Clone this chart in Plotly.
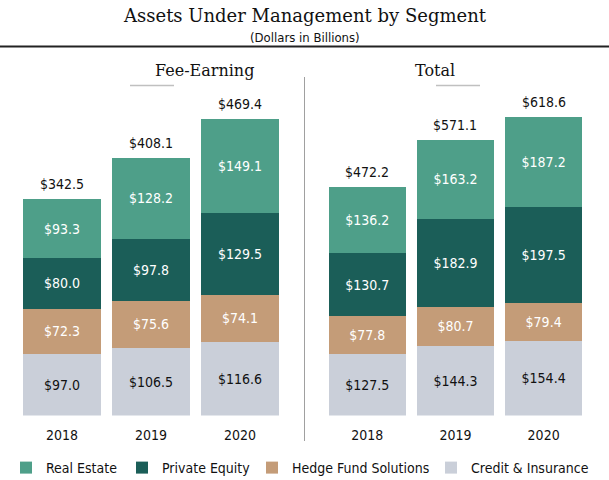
import plotly.graph_objects as go

W, H = 609, 480

years = ["2018", "2019", "2020"]
series_names = ["Real Estate", "Private Equity", "Hedge Fund Solutions", "Credit & Insurance"]
fee_real_estate = [93.3, 128.2, 149.1]
fee_private_equity = [80.0, 97.8, 129.5]
fee_hedge_fund = [72.3, 75.6, 74.1]
fee_credit = [97.0, 106.5, 116.6]
fee_totals = [342.5, 408.1, 469.4]

tot_real_estate = [136.2, 163.2, 187.2]
tot_private_equity = [130.7, 182.9, 197.5]
tot_hedge_fund = [77.8, 80.7, 79.4]
tot_credit = [127.5, 144.3, 154.4]
tot_totals = [472.2, 571.1, 618.6]

colors = {
    "Real Estate": "#4e9f89",
    "Private Equity": "#1b5e58",
    "Hedge Fund Solutions": "#c49c78",
    "Credit & Insurance": "#cacfd9",
}
text_colors = {
    "Real Estate": "white",
    "Private Equity": "white",
    "Hedge Fund Solutions": "white",
    "Credit & Insurance": "#111111",
}
legend_ids = {
    "Real Estate": "legend",
    "Private Equity": "legend2",
    "Hedge Fund Solutions": "legend3",
    "Credit & Insurance": "legend4",
}

SANS = "DejaVu Sans Condensed, DejaVu Sans, sans-serif"
SERIF = "DejaVu Serif, serif"

panels = [
    ("x", "y", {"Credit & Insurance": fee_credit, "Hedge Fund Solutions": fee_hedge_fund,
                "Private Equity": fee_private_equity, "Real Estate": fee_real_estate}, fee_totals, True),
    ("x2", "y2", {"Credit & Insurance": tot_credit, "Hedge Fund Solutions": tot_hedge_fund,
                  "Private Equity": tot_private_equity, "Real Estate": tot_real_estate}, tot_totals, False),
]

fig = go.Figure()
stack_order = ["Credit & Insurance", "Hedge Fund Solutions", "Private Equity", "Real Estate"]
for xa, ya, data, totals, show in panels:
    for name in stack_order:
        vals = data[name]
        fig.add_trace(go.Bar(
            x=list(years), y=list(vals), name=name, xaxis=xa, yaxis=ya,
            marker=dict(color=colors[name], line=dict(width=0)),
            text=["$" + f"{v:.1f}" for v in vals], textposition="inside",
            insidetextanchor="middle", textangle=0,
            textfont=dict(family=SANS, size=14, color=text_colors[name]),
            legendgroup=name, showlegend=show, legend=legend_ids[name],
        ))

annotations = []
for xa, ya, data, totals, show in panels:
    for i, t in enumerate(totals):
        annotations.append(dict(
            x=i, y=t, xref=xa, yref=ya, text="$" + f"{t:.1f}", showarrow=False,
            yanchor="bottom", yshift=5, font=dict(family=SANS, size=14, color="#111111"),
        ))

def px_x(p):
    return p / W

def px_y(p):
    return 1 - p / H

annotations += [
    dict(x=0.5, y=px_y(15), xref="paper", yref="paper", text="Assets Under Management by Segment",
         showarrow=False, yanchor="middle", font=dict(family=SERIF, size=18, color="#111111")),
    dict(x=0.5, y=px_y(37), xref="paper", yref="paper", text="(Dollars in Billions)",
         showarrow=False, yanchor="middle", font=dict(family=SANS, size=13, color="#111111")),
    dict(x=px_x(153), y=px_y(70), xref="paper", yref="paper", text="Fee-Earning",
         showarrow=False, yanchor="middle", font=dict(family=SERIF, size=16, color="#111111")),
    dict(x=px_x(457), y=px_y(70), xref="paper", yref="paper", text="Total",
         showarrow=False, yanchor="middle", font=dict(family=SERIF, size=16, color="#111111")),
]

shapes = [
    dict(type="line", xref="paper", yref="paper", x0=0, x1=1, y0=px_y(46.5), y1=px_y(46.5),
         line=dict(color="#222222", width=2)),
    dict(type="line", xref="paper", yref="paper", x0=px_x(304.5), x1=px_x(304.5),
         y0=px_y(77), y1=px_y(441), line=dict(color="#a0a0a0", width=1)),
    dict(type="line", xref="paper", yref="paper", x0=px_x(130), x1=px_x(174),
         y0=px_y(85.5), y1=px_y(85.5), line=dict(color="#c0c0c0", width=1.5)),
    dict(type="line", xref="paper", yref="paper", x0=px_x(436), x1=px_x(480),
         y0=px_y(85.5), y1=px_y(85.5), line=dict(color="#c0c0c0", width=1.5)),
]

y_bottom = 1 - 415.5 / H
y_top = 1 - 100 / H
plot_h = 415.5 - 100

legend_square_px = [23, 139, 269, 448]
LEG_OFF = 17
legend_layout = {}
for lid, sq in zip(["legend", "legend2", "legend3", "legend4"], legend_square_px):
    legend_layout[lid] = dict(orientation="h", x=px_x(sq - LEG_OFF), xanchor="left", y=px_y(468),
                              yanchor="middle", bgcolor="rgba(0,0,0,0)",
                              font=dict(family=SANS, size=14, color="#111111"))

axis_common = dict(type="category", range=[-0.5, 2.5], autorange=False,
                   showgrid=False, showline=False, zeroline=False,
                   tickfont=dict(family=SANS, size=14, color="#111111"),
                   ticks="outside", ticklen=7, tickcolor="rgba(0,0,0,0)")

fig.update_layout(
    width=W, height=H, margin=dict(l=0, r=0, t=0, b=0, autoexpand=False),
    paper_bgcolor="white", plot_bgcolor="white",
    barmode="stack", bargap=0.125,
    showlegend=True,
    xaxis=dict(domain=[px_x(17.6), px_x(284.6)], anchor="y", **axis_common),
    xaxis2=dict(domain=[px_x(323.2), px_x(587.7)], anchor="y2", **axis_common),
    yaxis=dict(domain=[y_bottom, y_top], range=[0, plot_h / 0.6315], visible=False, anchor="x"),
    yaxis2=dict(domain=[y_bottom, y_top], range=[0, plot_h / 0.4829], visible=False, anchor="x2"),
    annotations=annotations, shapes=shapes,
    **legend_layout,
)

fig.write_html("out.html", config={"displayModeBar": False},
               post_script="document.body.style.margin='0';")
